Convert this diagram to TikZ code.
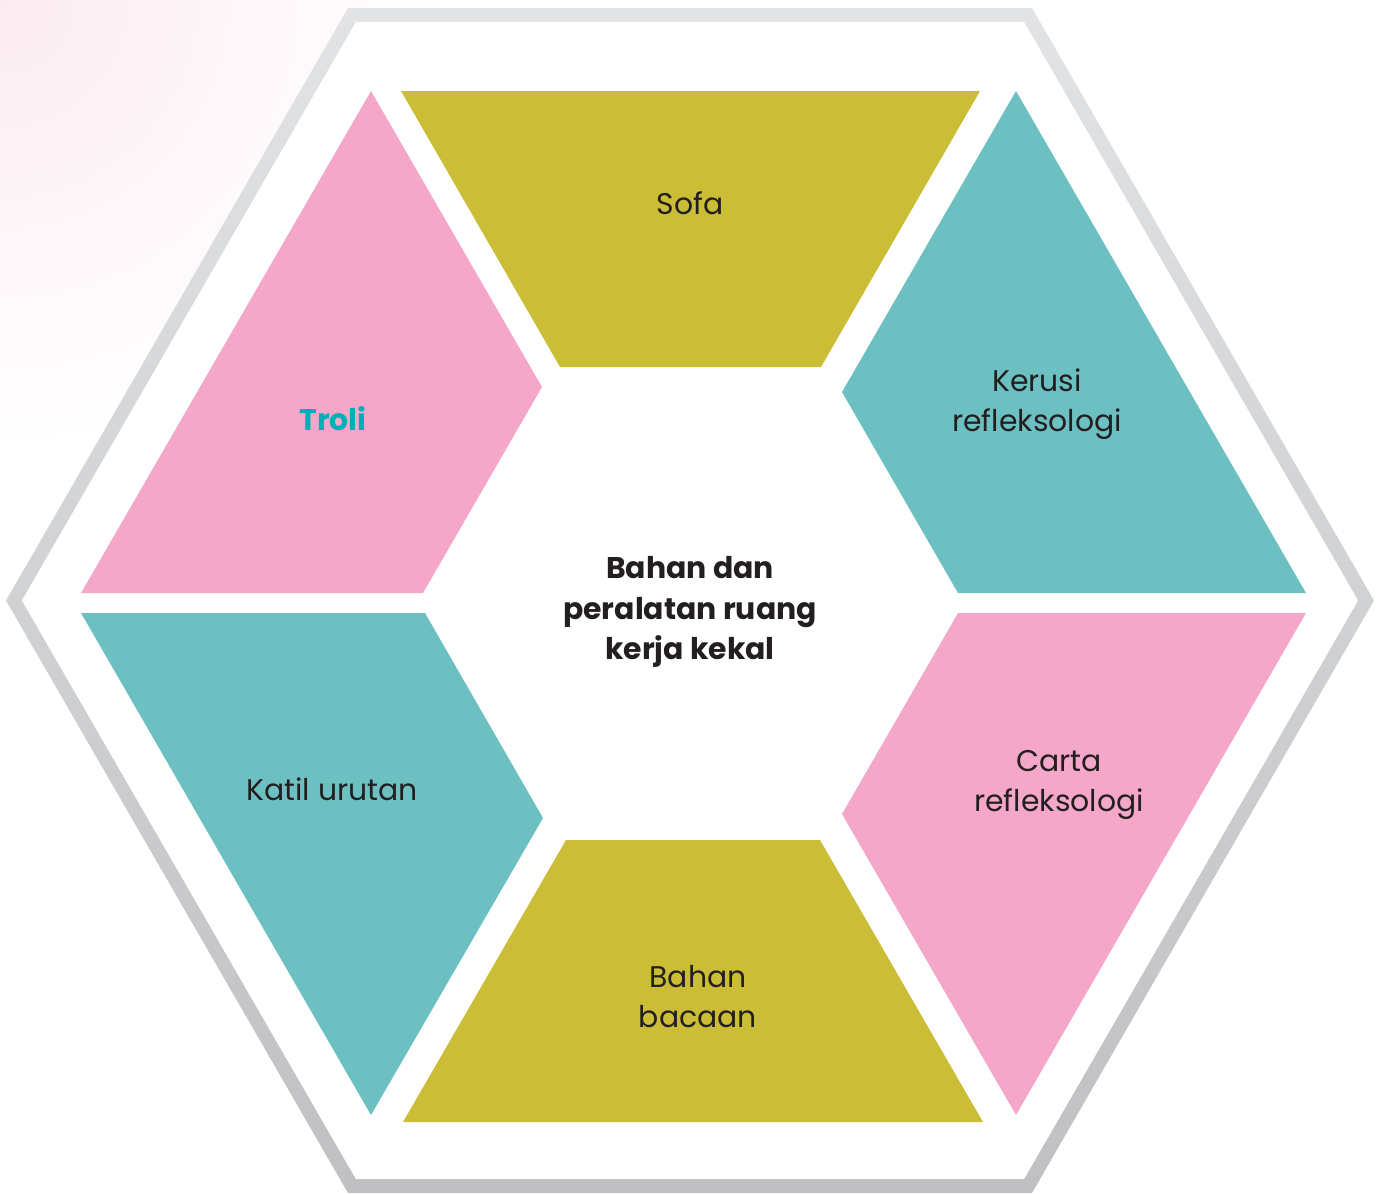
\documentclass[tikz,border=0pt]{standalone}
\usepackage{fontspec}
\setmainfont{Poppins}
\usepackage{xcolor}
\definecolor{hexpink}{RGB}{245,167,201}
\definecolor{hexteal}{RGB}{109,192,193}
\definecolor{hexolive}{RGB}{203,190,54}
\definecolor{hextext}{RGB}{35,31,32}
\definecolor{trolicyan}{RGB}{0,174,186}
\definecolor{rimlight}{RGB}{226,227,229}
\definecolor{rimdark}{RGB}{192,192,195}
\definecolor{hazepink}{RGB}{252,236,242}

\begin{document}
\begin{tikzpicture}[x=0.01cm,y=-0.01cm,
  itemtext/.style={font=\fontsize{8.5}{11.4}\selectfont,text=hextext,align=center},
  boldtext/.style={font=\fontsize{8.5}{11.6}\selectfont\bfseries,text=hextext,align=center}]
  \useasboundingbox (0,0) rectangle (1384,1193);
  \fill[white] (0,0) rectangle (1384,1193);
  % pink haze in the corner
  \shade[inner color=hazepink,outer color=white] (0,0) circle (4.5cm);
  % grey rim
  \shade[top color=rimlight,bottom color=rimdark,even odd rule]
    (6,600.5) -- (348,8) -- (1032,8) -- (1374,600.5) -- (1032,1193) -- (348,1193) -- cycle
    (22,600.5) -- (356,22) -- (1024,22) -- (1358,600.5) -- (1024,1179) -- (356,1179) -- cycle;
  \fill[white] (22,600.5) -- (356,22) -- (1024,22) -- (1358,600.5) -- (1024,1179) -- (356,1179) -- cycle;
  % the six pieces
  \fill[hexpink]  (371,91) -- (542,387) -- (423,593) -- (81,593) -- cycle;
  \fill[hexolive] (401,91) -- (980,91) -- (821,367) -- (560,367) -- cycle;
  \fill[hexteal]  (1016,91) -- (1306,593) -- (958,593) -- (842,392) -- cycle;
  \fill[hexteal]  (81,613) -- (425,613) -- (543,818) -- (371,1115) -- cycle;
  \fill[hexolive] (403,1122) -- (566,840) -- (820,840) -- (983,1122) -- cycle;
  \fill[hexpink]  (958,613) -- (1306,613) -- (1016,1115) -- (842,814) -- cycle;
  % texts
  \node[itemtext] (sofa) at (690,203) {Sofa};
  \node[boldtext,text=trolicyan] (troli) at (333,419) {Troli};
  \node[itemtext] (kerusi) at (1037,404) {Kerusi\\refleksologi};
  \node[boldtext] (pusat) at (690,612) {Bahan dan\\peralatan ruang\\kerja kekal};
  \node[itemtext] (katil) at (332,789) {Katil urutan};
  \node[itemtext] (carta) at (1059,785) {Carta\\refleksologi};
  \node[itemtext] (bacaan) at (698,997) {Bahan\\bacaan};
\end{tikzpicture}
\end{document}
